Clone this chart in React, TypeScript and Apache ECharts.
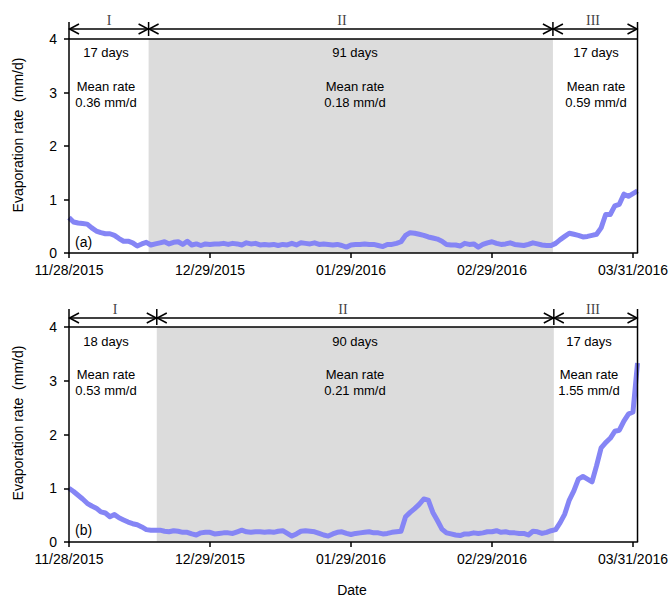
import React, { useEffect, useRef } from 'react';
import * as echarts from 'echarts';

// ---- data ----
const tickDays = [0, 31, 62, 93, 124];
const tickLabels = ['11/28/2015', '12/29/2015', '01/29/2016', '02/29/2016', '03/31/2016'];

// daily evaporation rate (mm/d), day 0 = 11/28/2015
const rateA = [
  0.66, 0.58, 0.56, 0.55, 0.54, 0.47, 0.41, 0.38, 0.36, 0.36,
  0.33, 0.27, 0.22, 0.22, 0.19, 0.13, 0.17, 0.20, 0.15, 0.17,
  0.19, 0.21, 0.17, 0.20, 0.21, 0.16, 0.22, 0.15, 0.17, 0.14,
  0.17, 0.16, 0.17, 0.17, 0.18, 0.16, 0.18, 0.17, 0.15, 0.19,
  0.17, 0.18, 0.15, 0.16, 0.15, 0.16, 0.14, 0.16, 0.15, 0.18,
  0.15, 0.19, 0.18, 0.17, 0.19, 0.16, 0.17, 0.16, 0.15, 0.16,
  0.14, 0.11, 0.15, 0.16, 0.16, 0.17, 0.16, 0.16, 0.14, 0.12,
  0.16, 0.16, 0.18, 0.21, 0.33, 0.38, 0.37, 0.35, 0.33, 0.30,
  0.28, 0.26, 0.22, 0.16, 0.15, 0.15, 0.13, 0.18, 0.16, 0.17,
  0.11, 0.16, 0.19, 0.21, 0.18, 0.16, 0.17, 0.19, 0.16, 0.15,
  0.14, 0.16, 0.19, 0.17, 0.15, 0.14, 0.14, 0.18, 0.25, 0.31,
  0.37, 0.35, 0.33, 0.30, 0.31, 0.33, 0.35, 0.47, 0.72, 0.72,
  0.88, 0.91, 1.10, 1.06, 1.11, 1.16,
];
const rateB = [
  1.00, 0.94, 0.87, 0.80, 0.72, 0.67, 0.63, 0.56, 0.54, 0.47,
  0.51, 0.45, 0.41, 0.37, 0.34, 0.32, 0.28, 0.23, 0.22, 0.22,
  0.22, 0.20, 0.19, 0.21, 0.20, 0.18, 0.18, 0.15, 0.13, 0.17,
  0.18, 0.18, 0.15, 0.16, 0.17, 0.17, 0.16, 0.19, 0.22, 0.19,
  0.18, 0.19, 0.19, 0.18, 0.19, 0.18, 0.20, 0.21, 0.16, 0.11,
  0.15, 0.20, 0.21, 0.20, 0.19, 0.16, 0.13, 0.11, 0.15, 0.18,
  0.19, 0.16, 0.14, 0.16, 0.17, 0.18, 0.19, 0.17, 0.17, 0.15,
  0.16, 0.18, 0.19, 0.20, 0.47, 0.55, 0.62, 0.70, 0.80, 0.78,
  0.55, 0.40, 0.24, 0.17, 0.15, 0.13, 0.12, 0.15, 0.15, 0.17,
  0.16, 0.17, 0.19, 0.19, 0.21, 0.18, 0.19, 0.17, 0.17, 0.16,
  0.16, 0.13, 0.20, 0.19, 0.16, 0.18, 0.21, 0.23, 0.36, 0.52,
  0.78, 0.95, 1.17, 1.22, 1.17, 1.12, 1.42, 1.75, 1.85, 1.93,
  2.06, 2.08, 2.25, 2.38, 2.42, 3.33,
];

// stage boundaries (day offsets)
const stagesA = [0, 17.5, 106.4, 125];
const stagesB = [0, 19.3, 106.6, 125];
const romanLabels = ['I', 'II', 'III'];
const daysA = ['17 days', '91 days', '17 days'];
const daysB = ['18 days', '90 days', '17 days'];
const meanA = ['0.36 mm/d', '0.18 mm/d', '0.59 mm/d'];
const meanB = ['0.53 mm/d', '0.21 mm/d', '1.55 mm/d'];
const panelTags = ['(a)', '(b)'];

const FONT = '"Liberation Sans", Arial, sans-serif';
const SERIF = '"Liberation Serif", "Times New Roman", serif';
const BLACK = '#000';

const layout = [
  { top: 39, height: 214, arrowY: 29, barTop: 22, romanY: 20, romanX: [109, 342, 593], textX: [106, 355, 596], daysY: 52, meanY: 86, nameY: 135, tagY: 242 },
  { top: 327, height: 215, arrowY: 318, barTop: 309, romanY: 309, romanX: [115, 343, 593], textX: [106, 355, 589], daysY: 341, meanY: 374, nameY: 423, tagY: 530 },
];

function txt(text: string, x: number, y: number, size: number, align: string, opts: any = {}) {
  return {
    type: 'text',
    x,
    y,
    z: 100,
    silent: true,
    rotation: opts.rotation || 0,
    style: {
      text,
      fill: opts.fill || BLACK,
      fontSize: size,
      fontFamily: opts.family || FONT,
      align,
      textAlign: align,
      verticalAlign: 'middle',
      textVerticalAlign: 'middle',
    },
  };
}

function line(x1: number, y1: number, x2: number, y2: number, w = 1.5) {
  return { type: 'line', z: 100, silent: true, shape: { x1, y1, x2, y2 }, style: { stroke: BLACK, lineWidth: w } };
}

function chevron(tipX: number, y: number, dir: number) {
  return {
    type: 'polyline',
    z: 100,
    silent: true,
    shape: { points: [[tipX + dir * 10, y - 5], [tipX + dir * 0.5, y], [tipX + dir * 10, y + 5]] },
    style: { stroke: BLACK, lineWidth: 1.5, fill: 'none' },
  };
}

export default function App() {
  const ref = useRef<HTMLDivElement>(null);

  useEffect(() => {
    document.body.style.margin = '0';
    const chart = echarts.init(ref.current!, null, { renderer: 'svg' });
    const datasets = [rateA, rateB];
    const stages = [stagesA, stagesB];
    const axisLineStyle = { color: BLACK, width: 1.5 };

    const option: any = {
      animation: false,
      backgroundColor: '#fff',
      grid: layout.map((l) => ({ left: 69, width: 569, top: l.top, height: l.height, show: false })),
      xAxis: layout.map((_, i) => ({
        type: 'value',
        gridIndex: i,
        min: 0,
        max: 125,
        z: 5,
        axisLine: { show: true, onZero: false, lineStyle: axisLineStyle },
        axisTick: { show: true, customValues: tickDays, length: 5, lineStyle: axisLineStyle },
        axisLabel: {
          customValues: tickDays,
          formatter: (v: number) => {
            const k = tickDays.indexOf(Math.round(v));
            return k >= 0 ? tickLabels[k] : '';
          },
          fontSize: 14,
          fontFamily: FONT,
          color: BLACK,
          margin: 10,
          showMaxLabel: true,
          showMinLabel: true,
          hideOverlap: false,
        },
        splitLine: { show: false },
      })),
      yAxis: layout.map((_, i) => ({
        type: 'value',
        gridIndex: i,
        min: 0,
        max: 4,
        interval: 1,
        z: 5,
        axisLine: { show: true, onZero: false, lineStyle: axisLineStyle },
        axisTick: { show: true, length: 5, lineStyle: axisLineStyle },
        axisLabel: { fontSize: 14, fontFamily: FONT, color: BLACK, margin: 12 },
        splitLine: { show: false },
      })),
      series: datasets.map((d, i) => ({
        type: 'line',
        xAxisIndex: i,
        yAxisIndex: i,
        data: d.map((v, day) => [day, v]),
        symbol: 'none',
        showSymbol: false,
        z: 3,
        lineStyle: { color: '#8585f5', width: 5, join: 'round' },
        markArea: {
          silent: true,
          itemStyle: { color: '#dcdcdc' },
          label: { show: false },
          data: [[{ xAxis: stages[i][1] }, { xAxis: stages[i][2] }]],
        },
      })),
    };
    chart.setOption(option);

    const graphics: any[] = [];
    layout.forEach((l, i) => {
      const px = stages[i].map((s) => chart.convertToPixel({ xAxisIndex: i }, s) as number);
      const gridTop = l.top;
      const gridBottom = l.top + l.height;
      const x0 = px[0];
      const x3 = px[3];
      graphics.push(line(x0, gridTop, x3, gridTop));
      graphics.push(line(x3, gridTop, x3, gridBottom));
      graphics.push(line(x0, l.arrowY, x3, l.arrowY));
      px.forEach((x, k) => {
        const edge = k === 0 || k === px.length - 1;
        graphics.push(line(x, l.barTop, x, edge ? gridTop : l.arrowY + 7));
      });
      for (let k = 0; k < 3; k++) {
        graphics.push(chevron(px[k], l.arrowY, 1));
        graphics.push(chevron(px[k + 1], l.arrowY, -1));
        graphics.push(txt(romanLabels[k], l.romanX[k], l.romanY, 14, 'center', { family: SERIF, fill: '#444' }));
        const days = i === 0 ? daysA : daysB;
        const means = i === 0 ? meanA : meanB;
        graphics.push(txt(days[k], l.textX[k], l.daysY, 13, 'center'));
        graphics.push(txt('Mean rate', l.textX[k], l.meanY, 13, 'center'));
        graphics.push(txt(means[k], l.textX[k], l.meanY + 16, 13, 'center'));
      }
      graphics.push(txt('Evaporation rate  (mm/d)', 18, l.nameY, 14, 'center', { rotation: Math.PI / 2 }));
      graphics.push(txt(panelTags[i], 75, l.tagY, 14, 'left'));
    });
    graphics.push(txt('Date', 352, 590, 14, 'center'));
    chart.setOption({ graphic: graphics });

    return () => chart.dispose();
  }, []);

  return <div ref={ref} style={{ width: 671, height: 597 }} />;
}
